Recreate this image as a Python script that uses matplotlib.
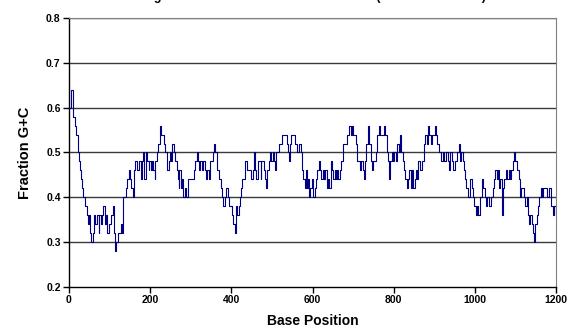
import matplotlib
matplotlib.use("Agg")
import matplotlib.pyplot as plt
import numpy as np

plt.rcParams['font.family'] = ['Liberation Sans', 'DejaVu Sans']
plt.rcParams['font.weight'] = 'bold'

# ---- data (base position, fraction G+C) ----
pos_a = [0, 3, 5, 7, 9, 11, 13, 15, 17, 18, 20, 21, 24, 27, 29, 32, 34, 38, 40, 44,
         47, 50, 52, 54, 57, 58, 62, 65, 68, 71, 73, 75, 78, 81, 85, 88, 91, 94, 98, 101,
         104, 108, 111, 114, 117, 121, 124, 127, 131, 134, 137, 140, 144, 147, 150, 153,
         157, 160, 163, 167, 170, 173, 177, 180, 183, 186]
gc_a = [0.60, 0.60, 0.64, 0.64, 0.60, 0.58, 0.58, 0.56, 0.56, 0.54, 0.54, 0.50, 0.48, 0.46,
        0.44, 0.42, 0.40, 0.40, 0.38, 0.36, 0.34, 0.36, 0.32, 0.30, 0.30, 0.32, 0.36, 0.34,
        0.36, 0.36, 0.32, 0.36, 0.34, 0.36, 0.38, 0.34, 0.36, 0.32, 0.34, 0.34, 0.36, 0.38,
        0.32, 0.28, 0.30, 0.32, 0.32, 0.34, 0.32, 0.40, 0.40, 0.42, 0.44, 0.46, 0.44, 0.42,
        0.40, 0.46, 0.48, 0.46, 0.46, 0.48, 0.44, 0.48, 0.50, 0.44]

pos_b = [190, 193, 196, 198, 201, 204, 208, 211, 213, 216, 219, 223, 224, 227, 231, 234,
         237, 241, 242, 246, 249, 252, 255, 259, 262, 265, 269, 270, 272, 275, 278, 282,
         285, 288, 292, 295, 298, 301, 305, 308, 311, 315, 318, 321, 324, 328, 331, 334,
         338, 341, 344, 347, 351, 354, 357, 360, 364, 367, 370, 374, 377, 380, 384]
gc_b = [0.50, 0.48, 0.46, 0.48, 0.46, 0.48, 0.46, 0.44, 0.48, 0.50, 0.52, 0.54, 0.56, 0.54,
        0.54, 0.52, 0.50, 0.48, 0.46, 0.48, 0.50, 0.48, 0.52, 0.50, 0.48, 0.46, 0.44, 0.42,
        0.46, 0.42, 0.44, 0.40, 0.42, 0.40, 0.44, 0.44, 0.44, 0.44, 0.44, 0.46, 0.48, 0.50,
        0.48, 0.46, 0.48, 0.46, 0.48, 0.46, 0.44, 0.46, 0.44, 0.48, 0.48, 0.50, 0.52, 0.50,
        0.46, 0.46, 0.44, 0.42, 0.40, 0.38, 0.40]

pos_c = [387, 390, 392, 395, 398, 402, 405, 408, 411, 415, 418, 421, 425, 426, 430, 433,
         436, 439, 443, 446, 449, 453, 456, 457, 459, 462, 466, 469, 472, 474, 477, 480,
         484, 485, 489, 492, 495, 498, 502, 505, 507, 510, 513, 517, 520, 523, 526, 530,
         533, 536, 540, 541, 544, 548, 551, 554, 558, 561, 564, 567, 571, 574, 577, 581]
gc_c = [0.42, 0.42, 0.40, 0.38, 0.38, 0.36, 0.34, 0.32, 0.38, 0.36, 0.38, 0.40, 0.42, 0.44,
        0.44, 0.48, 0.48, 0.46, 0.46, 0.46, 0.44, 0.46, 0.48, 0.50, 0.46, 0.44, 0.48, 0.48,
        0.44, 0.48, 0.48, 0.46, 0.44, 0.42, 0.46, 0.48, 0.50, 0.48, 0.50, 0.48, 0.46, 0.50,
        0.50, 0.52, 0.52, 0.52, 0.54, 0.54, 0.54, 0.52, 0.50, 0.48, 0.52, 0.54, 0.54, 0.54,
        0.52, 0.50, 0.50, 0.52, 0.50, 0.46, 0.44, 0.42]

pos_d = [584, 586, 589, 592, 595, 599, 602, 605, 609, 612, 615, 618, 622, 625, 628, 632,
         635, 638, 641, 645, 648, 651, 655, 658, 661, 664, 668, 671, 674, 678, 681, 684,
         687, 691, 694, 697, 701, 704, 707, 710, 714, 717, 720, 724, 727, 730, 733, 737,
         740, 743, 747, 750, 753, 756, 760, 763, 766, 770, 773, 776]
gc_d = [0.46, 0.42, 0.44, 0.40, 0.42, 0.44, 0.40, 0.42, 0.44, 0.46, 0.48, 0.46, 0.44, 0.46,
        0.44, 0.46, 0.42, 0.44, 0.42, 0.48, 0.46, 0.44, 0.46, 0.44, 0.46, 0.44, 0.46, 0.48,
        0.52, 0.52, 0.52, 0.54, 0.54, 0.56, 0.54, 0.56, 0.54, 0.54, 0.52, 0.48, 0.48, 0.46,
        0.48, 0.46, 0.44, 0.48, 0.52, 0.56, 0.52, 0.48, 0.46, 0.48, 0.48, 0.50, 0.54, 0.56,
        0.54, 0.54, 0.54, 0.56]

pos_e = [779, 781, 783, 786, 789, 792, 796, 799, 802, 806, 809, 812, 815, 819, 822, 825,
         829, 832, 835, 838, 842, 845, 848, 852, 855, 858, 861, 865, 868, 871, 875, 878,
         881, 884, 888, 891, 894, 898, 901, 904, 907, 911, 914, 917, 921, 924, 927, 930,
         934, 937, 940, 944, 947, 950, 953, 957, 960, 963, 967, 970, 973, 976]
gc_e = [0.54, 0.54, 0.50, 0.48, 0.44, 0.48, 0.50, 0.48, 0.50, 0.48, 0.52, 0.50, 0.54, 0.50,
        0.48, 0.46, 0.44, 0.42, 0.44, 0.46, 0.42, 0.46, 0.42, 0.44, 0.46, 0.44, 0.48, 0.46,
        0.46, 0.48, 0.52, 0.54, 0.52, 0.56, 0.54, 0.52, 0.54, 0.54, 0.56, 0.54, 0.52, 0.50,
        0.50, 0.48, 0.50, 0.48, 0.48, 0.50, 0.48, 0.46, 0.50, 0.48, 0.46, 0.48, 0.48, 0.50,
        0.52, 0.48, 0.50, 0.48, 0.46, 0.44]

pos_f = [978, 980, 984, 988, 992, 995, 998, 1003, 1006, 1009, 1013, 1017, 1021, 1025, 1027,
         1031, 1034, 1037, 1041, 1044, 1047, 1050, 1054, 1057, 1060, 1063, 1067, 1070, 1073,
         1077, 1080, 1083, 1086, 1090, 1093, 1096, 1099, 1103, 1106, 1109, 1111, 1114, 1118,
         1121, 1124, 1128, 1131, 1134, 1137, 1141, 1144, 1146, 1149, 1152, 1155, 1159, 1162,
         1165, 1169, 1172, 1175, 1178, 1182, 1185, 1188, 1192, 1195, 1200]
gc_f = [0.42, 0.42, 0.40, 0.44, 0.42, 0.40, 0.38, 0.36, 0.38, 0.36, 0.40, 0.44, 0.42, 0.40,
        0.38, 0.40, 0.38, 0.38, 0.40, 0.42, 0.44, 0.46, 0.44, 0.46, 0.42, 0.44, 0.36, 0.42,
        0.44, 0.46, 0.44, 0.46, 0.44, 0.46, 0.48, 0.50, 0.48, 0.46, 0.46, 0.44, 0.40, 0.42,
        0.42, 0.40, 0.38, 0.40, 0.36, 0.34, 0.36, 0.34, 0.32, 0.30, 0.34, 0.36, 0.38, 0.40,
        0.42, 0.40, 0.42, 0.42, 0.42, 0.40, 0.42, 0.42, 0.38, 0.36, 0.38, 0.36]

positions = pos_a + pos_b + pos_c + pos_d + pos_e + pos_f
fraction_gc = gc_a + gc_b + gc_c + gc_d + gc_e + gc_f

x_ticks = [0, 200, 400, 600, 800, 1000, 1200]
y_ticks = [0.2, 0.3, 0.4, 0.5, 0.6, 0.7, 0.8]
y_tick_labels = ["0.2", "0.3", "0.4", "0.5", "0.6", "0.7", "0.8"]

title_text = "Regional G+C Content Across the Gene (window size = 50)"
x_label = "Base Position"
y_label = "Fraction G+C"

# ---- figure ----
W, H = 568, 331
fig = plt.figure(figsize=(W / 100, H / 100), dpi=100)
ax = fig.add_axes([69 / W, 1 - 287 / H, (556 - 69) / W, (287 - 18) / H])

for yv in y_ticks[1:]:
    ax.axhline(yv, color='#3a3a3a', lw=1.0, zorder=1)

ax.plot(positions, fraction_gc, color='#000080', lw=0.8, drawstyle='steps-post', zorder=3)

ax.set_xlim(0, 1200)
ax.set_ylim(0.2, 0.8)
ax.set_xticks(x_ticks)
ax.set_yticks(y_ticks)
ax.set_yticklabels(y_tick_labels)
ax.tick_params(axis='both', direction='out', length=4, width=1, colors='black',
               labelsize=7.5, pad=2)
for lab in ax.get_xticklabels() + ax.get_yticklabels():
    lab.set_fontweight('bold')

ax.spines['left'].set_color('black')
ax.spines['bottom'].set_color('black')
ax.spines['left'].set_linewidth(1.0)
ax.spines['bottom'].set_linewidth(1.0)
ax.spines['right'].set_color('#808080')
ax.spines['top'].set_color('#808080')

ax.set_xlabel(x_label, fontsize=10, fontweight='bold', labelpad=6)
ax.set_ylabel(y_label, fontsize=10.5, fontweight='bold', labelpad=10)

# title sits mostly above the canvas: only its descenders are visible, as in the reference
fig.text(312 / W, 1 + 0.3 / H, title_text, ha='center', va='baseline',
         fontsize=9, fontweight='bold')

fig.savefig('out.png', dpi=100, facecolor='white')
